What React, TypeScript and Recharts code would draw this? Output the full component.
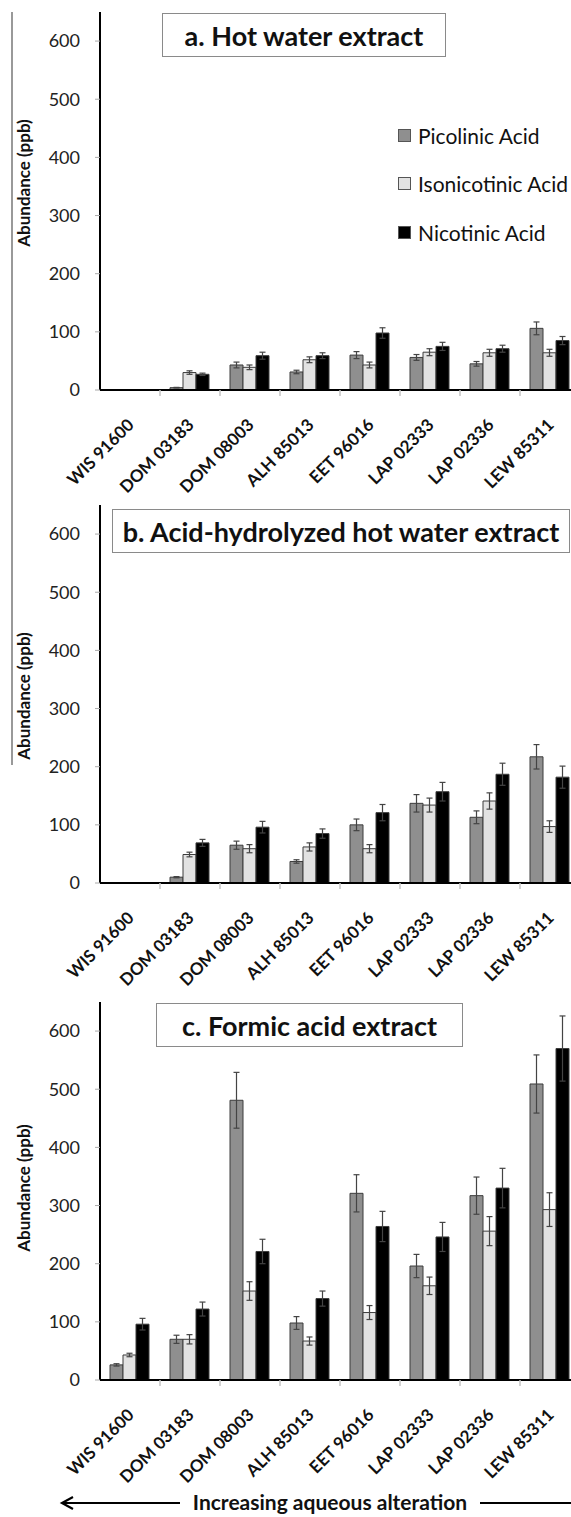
import React from 'react';
import { BarChart, Bar, XAxis, YAxis, ErrorBar, Legend } from 'recharts';

const CATEGORIES = ['WIS 91600', 'DOM 03183', 'DOM 08003', 'ALH 85013', 'EET 96016', 'LAP 02333', 'LAP 02336', 'LEW 85311'];
const Y_TICKS = [0, 100, 200, 300, 400, 500, 600];
const SERIES_NAMES = ['Picolinic Acid', 'Isonicotinic Acid', 'Nicotinic Acid'];

// a. Hot water extract
const A_PIC = [0, 4, 43, 31, 60, 56, 45, 106];
const A_ISO = [0, 30, 39, 52, 43, 65, 64, 64];
const A_NIC = [0, 27, 59, 59, 98, 75, 71, 85];
const A_PIC_ERR = [0, 0.5, 5, 3, 6, 5, 4, 11];
const A_ISO_ERR = [0, 3, 4, 5, 5, 6, 6, 6];
const A_NIC_ERR = [0, 2, 6, 5, 9, 7, 6, 7];

// b. Acid-hydrolyzed hot water extract
const B_PIC = [0, 10, 65, 37, 100, 137, 113, 217];
const B_ISO = [0, 49, 59, 62, 59, 134, 141, 97];
const B_NIC = [0, 69, 96, 85, 121, 157, 187, 182];
const B_PIC_ERR = [0, 1, 7, 3, 10, 15, 11, 21];
const B_ISO_ERR = [0, 4, 7, 7, 7, 12, 14, 10];
const B_NIC_ERR = [0, 6, 10, 8, 14, 16, 19, 19];

// c. Formic acid extract
const C_PIC = [26, 70, 481, 98, 321, 196, 317, 509];
const C_ISO = [43, 70, 153, 67, 116, 162, 256, 293];
const C_NIC = [96, 122, 221, 140, 264, 246, 330, 570];
const C_PIC_ERR = [2, 7, 48, 11, 32, 20, 32, 50];
const C_ISO_ERR = [3, 8, 16, 7, 12, 15, 25, 29];
const C_NIC_ERR = [10, 12, 21, 13, 26, 25, 34, 56];

const COLORS = ['#8f8f8f', '#e2e2e2', '#000000'];
const FONT = 'Lato, "Open Sans", sans-serif';

const Y_AXIS_W = 100;
const PLOT_W = 480;
const PLOT_H = 378;
const TOP_M = 12;
const X_AXIS_H = 125;
const CHART_W = Y_AXIS_W + PLOT_W;
const CHART_H = TOP_M + PLOT_H + X_AXIS_H;
const BAND = PLOT_W / CATEGORIES.length;
const AXIS_Y = TOP_M + PLOT_H;

function buildRows(pic: number[], iso: number[], nic: number[], pe: number[], ie: number[], ne: number[]) {
  return CATEGORIES.map((name, i) => ({
    name,
    pic: pic[i],
    iso: iso[i],
    nic: nic[i],
    picErr: pe[i],
    isoErr: ie[i],
    nicErr: ne[i],
  }));
}

const PANELS = [
  { key: 'a', top: 0, data: buildRows(A_PIC, A_ISO, A_NIC, A_PIC_ERR, A_ISO_ERR, A_NIC_ERR), legend: true },
  { key: 'b', top: 493, data: buildRows(B_PIC, B_ISO, B_NIC, B_PIC_ERR, B_ISO_ERR, B_NIC_ERR), legend: false },
  { key: 'c', top: 990, data: buildRows(C_PIC, C_ISO, C_NIC, C_PIC_ERR, C_ISO_ERR, C_NIC_ERR), legend: false },
];

const TITLES = [
  { text: 'a. Hot water extract', left: 162, top: 13, width: 284 },
  { text: 'b. Acid-hydrolyzed hot water extract', left: 112, top: 509, width: 458 },
  { text: 'c. Formic acid extract', left: 156, top: 1003, width: 307 },
];

const Y_LABEL_CENTERS = [183, 696, 1188];

function XTick(props: any) {
  const { x, payload, index } = props;
  const ax = x + 5;
  const ay = AXIS_Y + 36;
  return (
    <g>
      {index > 0 && (
        <line x1={x - BAND / 2} x2={x - BAND / 2} y1={AXIS_Y} y2={AXIS_Y + 6} stroke="#c4c4c4" strokeWidth={1.5} />
      )}
      <g transform={`translate(${ax},${ay})`}>
        <g transform="rotate(-45)">
          <text
            x={0}
            y={0}
            textAnchor="end"
            fontSize={17}
            fontWeight={700}
            fill="#111"
            fontFamily={FONT}
          >
            {payload.value}
          </text>
        </g>
      </g>
    </g>
  );
}

function LegendContent() {
  return (
    <div style={{ fontFamily: FONT }}>
      {SERIES_NAMES.map((name, i) => (
        <div key={name} style={{ height: 48.5, display: 'flex', alignItems: 'center' }}>
          <span
            style={{
              display: 'inline-block',
              width: 11,
              height: 11,
              background: COLORS[i],
              border: '1.5px solid #555',
              marginRight: 7,
            }}
          />
          <span style={{ fontSize: 21, color: '#111', whiteSpace: 'nowrap' }}>{name}</span>
        </div>
      ))}
    </div>
  );
}

function Panel({ data, legend }: { data: any[]; legend: boolean }) {
  const keys = ['pic', 'iso', 'nic'];
  return (
    <BarChart
      width={CHART_W}
      height={CHART_H}
      data={data}
      margin={{ top: TOP_M, right: 0, left: 0, bottom: 0 }}
      barCategoryGap={10}
      barGap={0}
    >
      <XAxis
        dataKey="name"
        interval={0}
        height={X_AXIS_H}
        tick={<XTick />}
        tickLine={false}
        axisLine={{ stroke: '#000', strokeWidth: 2 }}
      />
      <YAxis
        type="number"
        domain={[0, 650]}
        ticks={Y_TICKS}
        width={Y_AXIS_W}
        allowDataOverflow
        tick={{ fontSize: 18, fill: '#222', fontFamily: FONT }}
        tickLine={{ stroke: '#aaa' }}
        tickSize={5}
        tickMargin={15}
        axisLine={{ stroke: '#000', strokeWidth: 2 }}
      />
      {legend && (
        <Legend
          layout="vertical"
          align="center"
          verticalAlign="middle"
          content={<LegendContent />}
          wrapperStyle={{ position: 'absolute', left: 398, top: 111, width: 180, height: 146 }}
        />
      )}
      {keys.map((k, i) => (
        <Bar
          key={k}
          dataKey={k}
          name={SERIES_NAMES[i]}
          fill={COLORS[i]}
          stroke="#3c3c3c"
          strokeWidth={1}
          isAnimationActive={false}
        >
          <ErrorBar dataKey={k + 'Err'} width={3} stroke="#444" strokeWidth={1.2} isAnimationActive={false} />
        </Bar>
      ))}
    </BarChart>
  );
}

export default function App() {
  return (
    <div
      style={{
        position: 'absolute',
        left: 0,
        top: 0,
        width: 571,
        height: 1517,
        overflow: 'hidden',
        background: '#fff',
        fontFamily: FONT,
      }}
    >
      {PANELS.map((p) => (
        <div key={p.key} style={{ position: 'absolute', left: 0, top: p.top, width: CHART_W, height: CHART_H }}>
          <Panel data={p.data} legend={p.legend} />
        </div>
      ))}
      {TITLES.map((t) => (
        <div
          key={t.text}
          style={{
            position: 'absolute',
            left: t.left,
            top: t.top,
            width: t.width,
            height: 44,
            boxSizing: 'border-box',
            border: '1.5px solid #8a8a8a',
            background: '#fff',
            display: 'flex',
            alignItems: 'center',
            justifyContent: 'center',
            fontSize: 27,
            fontWeight: 700,
            color: '#111',
            whiteSpace: 'nowrap',
          }}
        >
          {t.text}
        </div>
      ))}
      <svg
        width={571}
        height={1517}
        style={{ position: 'absolute', left: 0, top: 0, pointerEvents: 'none' }}
      >
        <line x1={12} x2={12} y1={12} y2={765} stroke="#555" strokeWidth={1.2} />
        {Y_LABEL_CENTERS.map((cy, i) => (
          <text
            key={i}
            transform={`translate(30,${cy}) rotate(-90)`}
            textAnchor="middle"
            fontSize={17}
            fontWeight={700}
            fill="#111"
            fontFamily={FONT}
          >
            Abundance (ppb)
          </text>
        ))}
        <line x1={62} x2={180} y1={1503} y2={1503} stroke="#000" strokeWidth={2.2} />
        <polyline points="73,1497 62,1503 73,1509" fill="none" stroke="#000" strokeWidth={2.2} />
        <line x1={480} x2={571} y1={1503} y2={1503} stroke="#000" strokeWidth={2.2} />
        <text x={330} y={1510} textAnchor="middle" fontSize={21} fontWeight={700} fill="#111" fontFamily={FONT}>
          Increasing aqueous alteration
        </text>
      </svg>
    </div>
  );
}
